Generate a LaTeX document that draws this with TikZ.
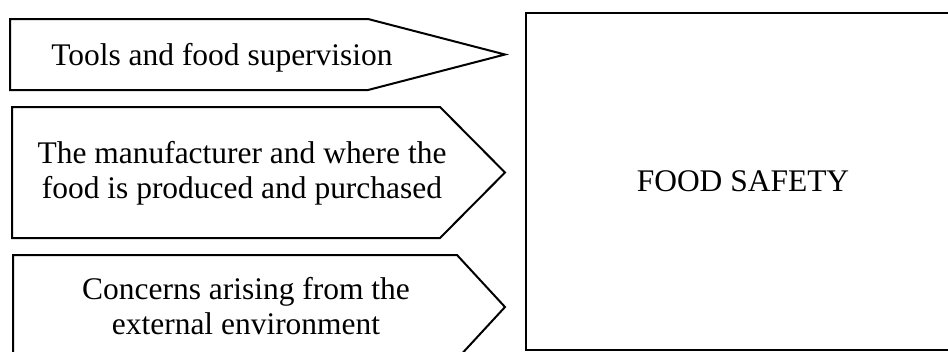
\documentclass[tikz,border=0pt]{standalone}
\usepackage{fontspec}
\setmainfont{Liberation Serif}
\usetikzlibrary{positioning}

\begin{document}
\begin{tikzpicture}[x=0.75pt, y=-0.75pt, line width=1.5pt]

% Define block styles
\tikzstyle{txt} = [font=\fontsize{23.6}{26.25}\selectfont, align=center, inner sep=0pt]
\tikzstyle{pointer} = [draw, line join=miter]
\tikzstyle{safetybox} = [draw, rectangle, minimum width=325.5pt, minimum height=252.75pt]

\useasboundingbox (0,0) rectangle (948,351);
\clip (0,0) rectangle (948,351);

% Arrow shapes
\draw [pointer] (10,19) -- (368,19) -- (505,54.5) -- (368,90) -- (10,90) -- cycle;
\draw [pointer] (12,107) -- (440,107) -- (505,172.5) -- (440,238) -- (12,238) -- cycle;
\draw [pointer] (13,255) -- (457,255) -- (505,307) -- (457,359) -- (13,359) -- cycle;

% Nodes
\node [txt] (tools) at (222,58) {Tools and food supervision};
\node [txt] (maker) at (242,173) {The manufacturer and where the\\food is produced and purchased};
\node [txt] (concerns) at (246,306) {Concerns arising from the\\external environment};
\node [safetybox, txt] (safety) at (743,181.5) {FOOD SAFETY};

\end{tikzpicture}
\end{document}
